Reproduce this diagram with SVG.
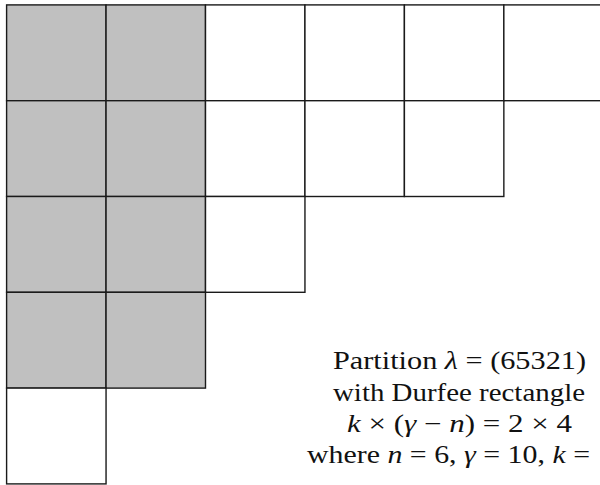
<svg xmlns="http://www.w3.org/2000/svg" width="600" height="485" viewBox="0 0 600 485">
  <style>
    .cell { fill: #ffffff; stroke: #1a1a1a; stroke-width: 1.4; }
    .durfee { fill: #c0c0c0; }
    .label { font-family: "Liberation Serif", "Times New Roman", Times, serif; font-size: 25px; fill: #111111; }
    .m { font-style: italic; }
  </style>
  <rect width="600" height="485" fill="#ffffff"/>
  <!-- Young diagram of the partition (6,5,3,2,1); cells are 99.45 wide, 95.8 tall -->
  <g id="young-diagram">
    <g id="row1">
      <rect class="cell durfee" x="6.6" y="4.9" width="99.45" height="95.8"/>
      <rect class="cell durfee" x="106.05" y="4.9" width="99.45" height="95.8"/>
      <rect class="cell" x="205.5" y="4.9" width="99.45" height="95.8"/>
      <rect class="cell" x="304.95" y="4.9" width="99.45" height="95.8"/>
      <rect class="cell" x="404.4" y="4.9" width="99.45" height="95.8"/>
      <rect class="cell" x="503.85" y="4.9" width="99.45" height="95.8"/>
    </g>
    <g id="row2">
      <rect class="cell durfee" x="6.6" y="100.7" width="99.45" height="95.8"/>
      <rect class="cell durfee" x="106.05" y="100.7" width="99.45" height="95.8"/>
      <rect class="cell" x="205.5" y="100.7" width="99.45" height="95.8"/>
      <rect class="cell" x="304.95" y="100.7" width="99.45" height="95.8"/>
      <rect class="cell" x="404.4" y="100.7" width="99.45" height="95.8"/>
    </g>
    <g id="row3">
      <rect class="cell durfee" x="6.6" y="196.5" width="99.45" height="95.8"/>
      <rect class="cell durfee" x="106.05" y="196.5" width="99.45" height="95.8"/>
      <rect class="cell" x="205.5" y="196.5" width="99.45" height="95.8"/>
    </g>
    <g id="row4">
      <rect class="cell durfee" x="6.6" y="292.3" width="99.45" height="95.8"/>
      <rect class="cell durfee" x="106.05" y="292.3" width="99.45" height="95.8"/>
    </g>
    <g id="row5">
      <rect class="cell" x="6.6" y="388.1" width="99.45" height="95.8"/>
    </g>
  </g>
  <!-- caption -->
  <g id="caption" class="label">
    <text x="333" y="369" textLength="253" lengthAdjust="spacingAndGlyphs">Partition <tspan class="m">λ</tspan> = (65321)</text>
    <text x="333" y="400.5" textLength="252" lengthAdjust="spacingAndGlyphs">with Durfee rectangle</text>
    <text x="347" y="431.5" textLength="225" lengthAdjust="spacingAndGlyphs"><tspan class="m">k</tspan> × (<tspan class="m">γ</tspan> − <tspan class="m">n</tspan>) = 2 × 4</text>
    <text x="307" y="462.5" textLength="283" lengthAdjust="spacingAndGlyphs">where <tspan class="m">n</tspan> = 6, <tspan class="m">γ</tspan> = 10, <tspan class="m">k</tspan> =</text>
  </g>
</svg>
